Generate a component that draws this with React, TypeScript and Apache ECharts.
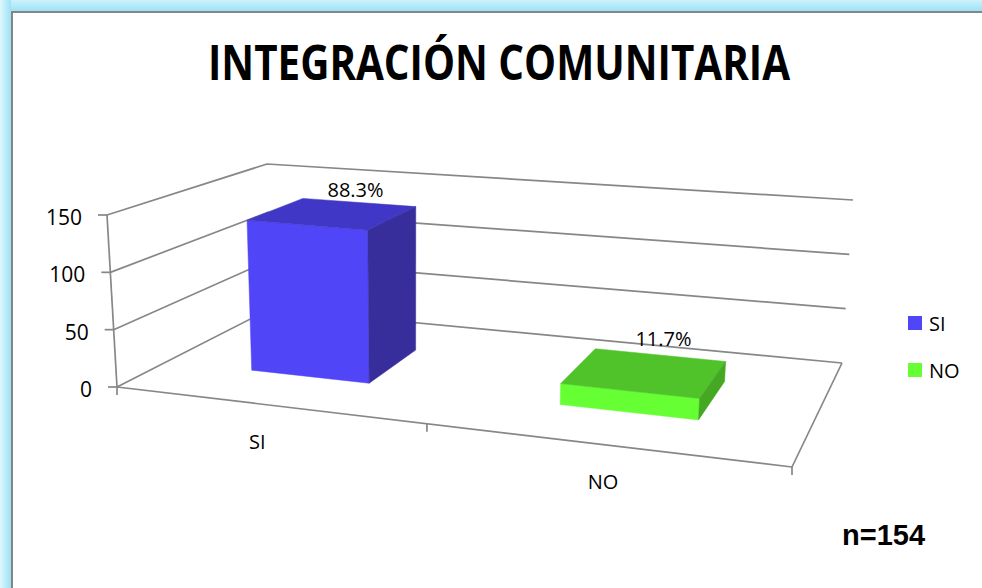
import React, { useEffect, useRef } from "react";
import * as echarts from "echarts";

// ---------- data ----------
const titleText = "INTEGRACIÓN COMUNITARIA";
const categories = ["SI", "NO"];
const counts = [136, 18];
const totalN = 154;
const yTicks = [0, 50, 100, 150];
const noteText = "n=" + totalN;

// ---------- styles / geometry ----------
const Y_MAX = 150;
const GRID = { x: 100, y: 100, w: 600, h: 300 };
const FONT = "'Open Sans', 'Noto Sans', sans-serif";
const GRID_COLOR = "#878787";
const BAR_COLORS = [
  { front: "#5046f8", top: "#4037c6", side: "#372e9c" },
  { front: "#66ff33", top: "#50c22a", side: "#45a823" },
];
// screen corners of the perspective box: (u,w,v) in {0,1}
const CORNER = {
  a0: [117, 387], d0: [792, 467], b0: [270, 309], c0: [842, 363],
  a1: [107, 215], d1: [804, 277], b1: [267, 164], c1: [853, 200],
};
const PERSP = 1.178;
const BAR_DEPTH = [0.335, 0.72];
const BAR_FRAC = 0.4;

function lerp(p: number[], q: number[], t: number) {
  return [p[0] + (q[0] - p[0]) * t, p[1] + (q[1] - p[1]) * t];
}
function proj(t: number, w: number, v: number) {
  const u = t / (t + PERSP * (1 - t));
  const bottom = lerp(lerp(CORNER.a0, CORNER.d0, u), lerp(CORNER.b0, CORNER.c0, u), w);
  const top = lerp(lerp(CORNER.a1, CORNER.d1, u), lerp(CORNER.b1, CORNER.c1, u), w);
  return lerp(bottom, top, v);
}
const toT = (px: number) => (px - GRID.x) / GRID.w;
const toV = (py: number) => (GRID.y + GRID.h - py) / GRID.h;

function measure(text: string, font: string) {
  const ctx = document.createElement("canvas").getContext("2d");
  if (!ctx) return 0;
  ctx.font = font;
  return ctx.measureText(text).width;
}

function line(p: number[], q: number[], color = GRID_COLOR, width = 1.7) {
  return {
    type: "line",
    silent: true,
    shape: { x1: p[0], y1: p[1], x2: q[0], y2: q[1] },
    style: { stroke: color, lineWidth: width },
  };
}
function text(str: string, x: number, y: number, size: number, align: string, extra: any = {}) {
  return {
    type: "text",
    silent: true,
    style: {
      text: str, x, y,
      font: `${extra.weight || "normal"} ${size}px ${extra.family || FONT}`,
      fill: "#000",
      align, textAlign: align,
      verticalAlign: "middle", textVerticalAlign: "middle",
    },
  };
}

export default function App() {
  const ref = useRef<HTMLDivElement>(null);
  useEffect(() => {
    if (!ref.current) return;
    const chart = echarts.init(ref.current, null, { renderer: "svg" });

    const titleFont = `bold 49px 'Open Sans'`;
    const tw = measure(titleText, titleFont) || 700;
    const titleScale = 582 / tw;

    const frameSeries: any = {
      type: "custom",
      name: "frame",
      coordinateSystem: "cartesian2d",
      silent: true,
      data: yTicks.map((v) => [0, v]),
      renderItem: (params: any, api: any) => {
        const pt = api.coord([0, api.value(1)]);
        const v = toV(pt[1]);
        const children: any[] = [];
        const f = proj(0, 0, v);
        const b = proj(0, 1, v);
        const r = proj(1, 1, v);
        children.push({
          type: "polyline", silent: true,
          shape: { points: [f, b, r] },
          style: { stroke: GRID_COLOR, lineWidth: 1.7, fill: null },
        });
        children.push(line([f[0] - 9, f[1]], f));
        children.push(text(String(api.value(1)), f[0] - 25, f[1] + 2, 21, "right"));
        if (params.dataIndex === 0) {
          children.push(line(proj(0, 0, 0), proj(0, 0, 1)));
          children.push(line(proj(0, 0, 0), proj(1, 0, 0)));
          children.push(line(proj(1, 0, 0), proj(1, 1, 0)));
          const band = api.size([1, 0])[0];
          const x0 = api.coord([0, 0])[0] - band / 2;
          for (let i = 0; i <= categories.length; i++) {
            const p = proj(toT(x0 + i * band), 0, 0);
            children.push(line(p, [p[0], p[1] + 8]));
          }
        }
        return { type: "group", children };
      },
    };

    const barSeries = categories.map((name, i) => ({
      type: "custom",
      name,
      coordinateSystem: "cartesian2d",
      itemStyle: { color: BAR_COLORS[i].front },
      data: [[i, counts[i]]],
      renderItem: (params: any, api: any) => {
        const top = api.coord([api.value(0), api.value(1)]);
        const band = api.size([1, 0])[0];
        const tc = toT(top[0]);
        const hw = (band * BAR_FRAC) / GRID.w / 2;
        const t0 = tc - hw, t1 = tc + hw;
        const v = toV(top[1]);
        const [w0, w1] = BAR_DEPTH;
        const col = BAR_COLORS[i];
        const poly = (pts: number[][], fill: string) => ({
          type: "polygon", silent: true,
          shape: { points: pts },
          style: { fill, stroke: fill, lineWidth: 0.5 },
        });
        const children: any[] = [
          poly([proj(t0, w0, 0), proj(t1, w0, 0), proj(t1, w0, v), proj(t0, w0, v)], col.front),
          poly([proj(t0, w0, v), proj(t1, w0, v), proj(t1, w1, v), proj(t0, w1, v)], col.top),
          poly([proj(t1, w0, 0), proj(t1, w1, 0), proj(t1, w1, v), proj(t1, w0, v)], col.side),
        ];
        const lp = proj(tc, w1, v);
        const pct = ((api.value(1) / totalN) * 100).toFixed(1) + "%";
        const u = tc / (tc + PERSP * (1 - tc));
        children.push(text(pct, lp[0] - 6 + 14 * u, lp[1] - 12 - 6 * u, 20, "center"));
        const cp = proj(tc, 0, 0);
        children.push(text(categories[i], cp[0] - 13 + 20 * u, cp[1] + 37, 20, "center"));
        return { type: "group", children };
      },
    }));

    chart.setOption({
      animation: false,
      backgroundColor: "#ffffff",
      grid: { left: GRID.x, top: GRID.y, width: GRID.w, height: GRID.h, show: false },
      xAxis: { type: "category", data: categories, show: false, boundaryGap: true },
      yAxis: { type: "value", min: 0, max: Y_MAX, interval: 50, show: false },
      legend: {
        data: categories,
        orient: "vertical",
        left: 903,
        top: 308,
        itemWidth: 14,
        itemHeight: 14,
        itemGap: 27,
        icon: "rect",
        selectedMode: false,
        textStyle: { fontFamily: FONT, fontSize: 20, color: "#000", lineHeight: 20, padding: [0, 0, 0, 2] },
      },
      graphic: [
        {
          type: "rect", silent: true, z: -10,
          shape: { x: 0, y: 0, width: 982, height: 11 },
          style: {
            fill: new echarts.graphic.LinearGradient(0, 0, 0, 1, [
              { offset: 0, color: "#cdf2fc" },
              { offset: 1, color: "#9de2f6" },
            ]),
          },
        },
        {
          type: "rect", silent: true, z: -10,
          shape: { x: 0, y: 0, width: 11, height: 588 },
          style: {
            fill: new echarts.graphic.LinearGradient(0, 0, 1, 0, [
              { offset: 0, color: "#def7fd" },
              { offset: 1, color: "#9de2f6" },
            ]),
          },
        },
        {
          type: "polyline", silent: true, z: -9,
          shape: { points: [[12, 588], [12, 12], [982, 12]] },
          style: { stroke: "#858585", lineWidth: 2, fill: null },
        },
        {
          type: "text", silent: true,
          x: 499, y: 61, scaleX: titleScale, scaleY: 1,
          style: {
            text: titleText, x: 0, y: 0,
            font: titleFont, fill: "#000",
            align: "center", textAlign: "center",
            verticalAlign: "middle", textVerticalAlign: "middle",
          },
        },
        {
          type: "text", silent: true,
          x: 842, y: 535,
          style: {
            text: noteText, x: 0, y: 0,
            font: `bold 29px 'Liberation Sans', Arial, sans-serif`, fill: "#000",
            align: "left", textAlign: "left",
            verticalAlign: "middle", textVerticalAlign: "middle",
          },
        },
      ],
      series: [frameSeries, ...barSeries],
    });
    return () => chart.dispose();
  }, []);
  return (
    <div
      ref={ref}
      style={{ position: "fixed", left: 0, top: 0, width: 982, height: 588 }}
    />
  );
}
